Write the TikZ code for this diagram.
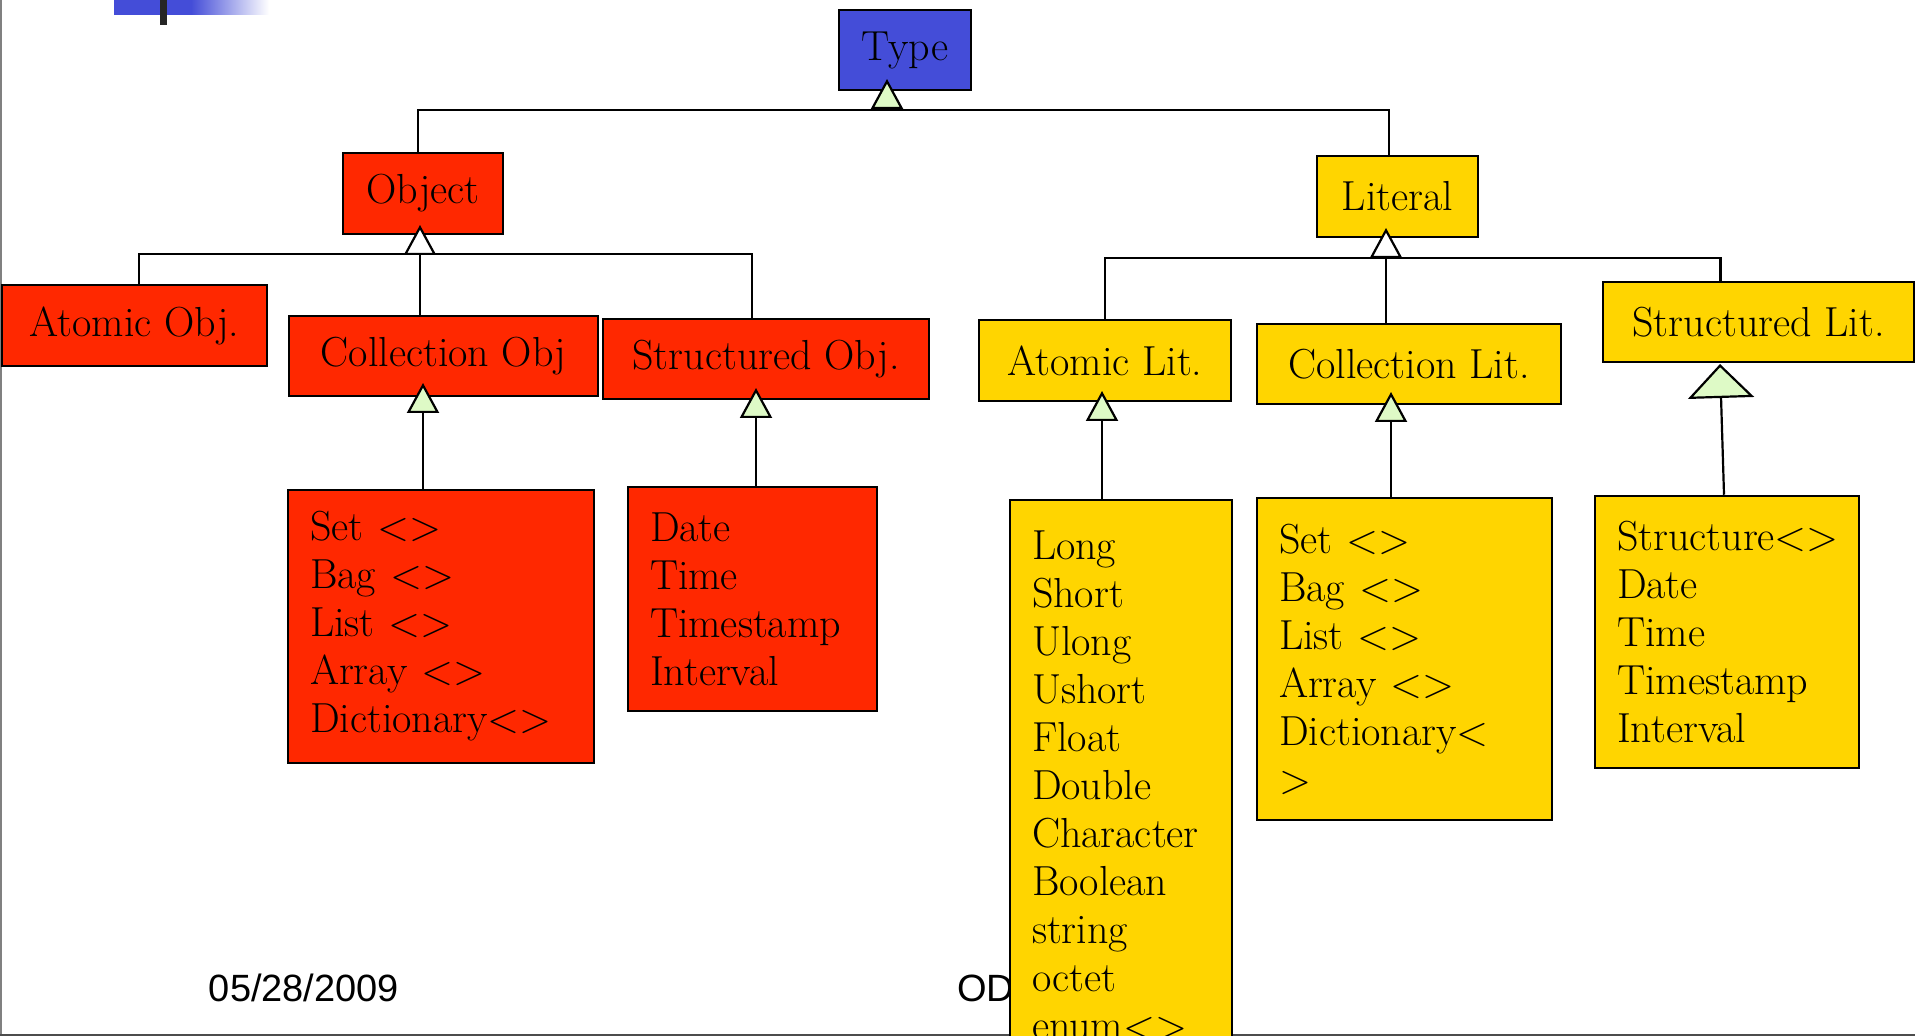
\documentclass[tikz,border=0pt]{standalone}
\usepackage{fontspec}
\usepackage{xcolor}
\usepackage{tikz}
\usetikzlibrary{arrows.meta}
\newfontfamily\footfont{Liberation Sans}
\definecolor{typeblue}{RGB}{68,77,216}
\definecolor{objred}{RGB}{255,40,0}
\definecolor{litgold}{RGB}{255,213,0}
\definecolor{trigreen}{RGB}{222,250,198}
\newcommand{\boxfont}{\fontsize{21}{24}\selectfont}

\begin{document}
\begin{tikzpicture}[
    x=0.5pt, y=-0.5pt,
    tbox/.style={draw, line width=1.25pt, inner sep=0pt, font=\boxfont},
    listbox/.style={draw, line width=1.25pt, inner ysep=0pt, inner xsep=11pt, align=left, font=\boxfont},
    link/.style={draw, line width=1.1pt},
    gen/.style={link, -{Triangle[width=16pt, length=15pt, fill=trigreen]}},
    genopen/.style={link, -{Triangle[width=16pt, length=15pt, fill=white]}},
    genbig/.style={link, -{Triangle[width=33pt, length=17pt, fill=trigreen]}},
    datetext/.style={font=\footfont\fontsize{19}{22}\selectfont}
    ]
        \clip (0,0) rectangle (1915,1036);

        % slide decoration
        \fill[typeblue] (114,0) rectangle (191,15);
        \shade[left color=typeblue, right color=white] (191,0) rectangle (269,15);
        \fill[black!85] (160,0) rectangle (167,25);
        \draw[gray, line width=1pt] (1,0) -- (1,1036);
        \draw[gray!60!black, line width=1.5pt] (0,1035) -- (1915,1035);

        \node[datetext] (datestamp) at (304,988) {05/28/2009};
        \node[datetext, anchor=west] (odmark) at (950,988) {OD};

        \node[tbox, fill=typeblue, minimum width=66pt, minimum height=40pt] (ty) at (905,50) {Type};

        % object side
        \node[tbox, fill=objred, minimum width=80pt, minimum height=40.5pt] (ob) at (423,193.5) {Object};
        \node[tbox, fill=objred, minimum width=132.5pt, minimum height=40.5pt] (atomicobj) at (134.5,325.5) {Atomic Obj.};
        \node[tbox, fill=objred, minimum width=154.5pt, minimum height=40pt] (collobj) at (443.5,356) {Collection Obj};
        \node[tbox, fill=objred, minimum width=163pt, minimum height=40pt] (structobj) at (766,359) {Structured Obj.};
        \node[listbox, fill=objred, text width=131pt, minimum height=136.5pt] (setlist) at (441,626.5)
            {Set <>\\Bag <>\\List <>\\Array <>\\Dictionary<>};
        \node[listbox, fill=objred, text width=102.5pt, minimum height=112pt] (datelist) at (752.5,599)
            {Date\\Time\\Timestamp\\Interval};

        % literal side
        \node[tbox, fill=litgold, minimum width=80.5pt, minimum height=40.5pt] (lit) at (1397.5,196.5) {Literal};
        \node[tbox, fill=litgold, minimum width=126pt, minimum height=40.5pt] (atomiclit) at (1105,360.5) {Atomic Lit.};
        \node[tbox, fill=litgold, minimum width=152pt, minimum height=40pt] (colllit) at (1409,364) {Collection Lit.};
        \node[tbox, fill=litgold, minimum width=155.5pt, minimum height=40pt] (structlit) at (1758.5,322) {Structured Lit.};
        \node[listbox, fill=litgold, text width=89pt, minimum height=285.5pt] (atomlist) at (1121,785.5)
            {Long\\Short\\Ulong\\Ushort\\Float\\Double\\Character\\Boolean\\string\\octet\\enum<>};
        \node[listbox, fill=litgold, text width=125.5pt, minimum height=161pt] (colllist) at (1404.5,659)
            {Set <>\\Bag <>\\List <>\\Array <>\\Dictionary<\\>};
        \node[listbox, fill=litgold, text width=110pt, minimum height=136pt] (structlist) at (1727,632)
            {Structure<>\\Date\\Time\\Timestamp\\Interval};

        % joins and triangle tips
        \coordinate (tyjoin) at (887,110);
        \coordinate (tytip) at (887,79);
        \coordinate (objoin) at (420,254);
        \coordinate (obtip) at (420,225);
        \coordinate (litjoin) at (1386,258);
        \coordinate (littip) at (1386,228);
        \coordinate (collobjtip) at (423,383);
        \coordinate (structobjtip) at (756,388);
        \coordinate (atomlittip) at (1102,391);
        \coordinate (colllittip) at (1391,392);
        \coordinate (structlittip) at (1720,364);

        \draw[link] ([xshift=-2.5pt]ob.north) |- (tyjoin) -| ([xshift=-4.25pt]lit.north);
        \draw[gen] (tyjoin) -- (tytip);

        \draw[link] ([xshift=2.25pt]atomicobj.north) |- (objoin) -| ([xshift=-7pt]structobj.north);
        \draw[link] (objoin) -- (objoin |- collobj.north);
        \draw[genopen] (objoin) -- (obtip);

        \draw[link] (atomiclit.north) |- (litjoin) -| ([xshift=-19pt]structlit.north);
        \draw[link] (litjoin) -- (litjoin |- colllit.north);
        \draw[genopen] (litjoin) -- (littip);

        \foreach \tip/\kid in {collobjtip/setlist, structobjtip/datelist, atomlittip/atomlist, colllittip/colllist}
            \draw[gen] (\tip |- \kid.north) -- (\tip);
        \draw[genbig] ([xshift=-1.5pt]structlist.north) -- (structlittip);
\end{tikzpicture}
\end{document}
